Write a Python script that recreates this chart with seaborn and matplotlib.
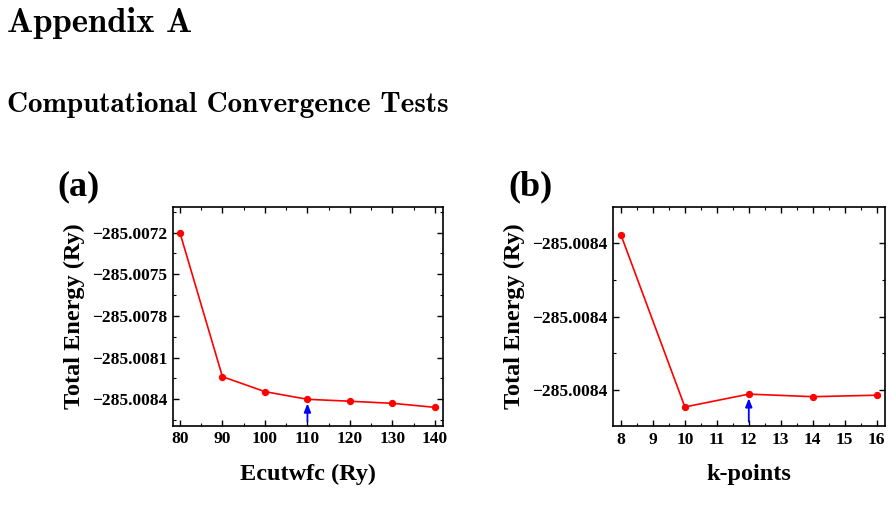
import numpy as np
import pandas as pd
import seaborn as sns
import matplotlib
matplotlib.use('Agg')
from matplotlib import pyplot as plt
from matplotlib.ticker import MultipleLocator, FuncFormatter

# (a) cutoff convergence
ecut = [80, 90, 100, 110, 120, 130, 140]
energy_ecut = [-285.00720, -285.008237, -285.008345, -285.008400, -285.008414, -285.008429, -285.008458]
# (b) k-point convergence
kpts = [8, 10, 12, 14, 16]
energy_k = [-285.0083777, -285.0084246, -285.0084211, -285.0084218, -285.0084214]
chosen = {'a': 110, 'b': 12}

sns.set_style('ticks')
plt.rcParams['font.family'] = ['Liberation Serif', 'DejaVu Serif']
plt.rcParams['font.weight'] = 'bold'
plt.rcParams['axes.labelweight'] = 'bold'
plt.rcParams['axes.linewidth'] = 1.2
plt.rcParams['axes.edgecolor'] = 'black'
plt.rcParams['axes.labelcolor'] = 'black'
plt.rcParams['text.color'] = 'black'
plt.rcParams['xtick.color'] = 'black'
plt.rcParams['ytick.color'] = 'black'
plt.rcParams['xtick.major.width'] = 1.0
plt.rcParams['ytick.major.width'] = 1.0
plt.rcParams['xtick.minor.width'] = 0.8
plt.rcParams['ytick.minor.width'] = 0.8

fig = plt.figure(figsize=(8.91, 5.09), dpi=100)
ax_a = fig.add_axes([0.1938, 0.1637, 0.3037, 0.4303])
ax_b = fig.add_axes([0.6883, 0.1630, 0.3049, 0.4310])

df_a = pd.DataFrame({'x': ecut, 'E': energy_ecut})
df_b = pd.DataFrame({'x': kpts, 'E': energy_k})

def minus_fmt(v, pos):
    return '\u2212%.4f' % abs(v) if v < 0 else '%.4f' % v

def style_panel(ax, df, xsel, xlim, ylim, xmaj, xmin, ymaj, ymin, xlabel):
    sns.lineplot(data=df, x='x', y='E', ax=ax, color='red', lw=1.2,
                 marker='o', markersize=4.5, markeredgecolor='red')
    ax.set_xlim(*xlim)
    ax.set_ylim(*ylim)
    ax.xaxis.set_major_locator(MultipleLocator(xmaj))
    ax.xaxis.set_minor_locator(MultipleLocator(xmin))
    ax.yaxis.set_major_locator(MultipleLocator(ymaj))
    ax.yaxis.set_minor_locator(MultipleLocator(ymin))
    ax.yaxis.set_major_formatter(FuncFormatter(minus_fmt))
    ax.tick_params(which='both', direction='in', top=True, right=True, labelsize=12.5, pad=4)
    ax.tick_params(which='major', length=4.5)
    ax.tick_params(which='minor', length=2.5)
    for lab in ax.get_xticklabels() + ax.get_yticklabels():
        lab.set_fontweight('bold')
    ax.set_xlabel(xlabel, fontsize=17.5, labelpad=12)
    ax.set_ylabel('Total Energy (Ry)', fontsize=17.5, labelpad=5)
    ysel = df.loc[df['x'] == xsel, 'E'].iloc[0]
    ax.annotate('', xy=(xsel, ysel), xytext=(xsel, 0.02),
                xycoords='data', textcoords=('data', 'axes fraction'),
                arrowprops=dict(arrowstyle='-|>,head_length=0.5,head_width=0.2',
                                color='blue', lw=1.3, shrinkA=0, shrinkB=3))

style_panel(ax_a, df_a, chosen['a'], (78.3, 141.95), (-285.00859, -285.007013),
            10, 5, 0.0003, 0.00015, 'Ecutwfc (Ry)')
style_panel(ax_b, df_b, chosen['b'], (7.76, 16.26), (-285.0084298, -285.00837),
            1, 0.5, 0.00002, 0.00001, 'k-points')

fig.text(57 / 891, 1 - 195 / 509, '(a)', fontsize=26, fontweight='bold', va='baseline')
fig.text(508 / 891, 1 - 195 / 509, '(b)', fontsize=26, fontweight='bold', va='baseline')

fig.text(7 / 891, 1 - 32 / 509, 'Appendix A', family=['cmb10', 'DejaVu Serif'],
         fontsize=25, va='baseline')
fig.text(7 / 891, 1 - 112 / 509, 'Computational Convergence Tests', family=['cmb10', 'DejaVu Serif'],
         fontsize=21, va='baseline')

fig.savefig('out.png', dpi=100)
